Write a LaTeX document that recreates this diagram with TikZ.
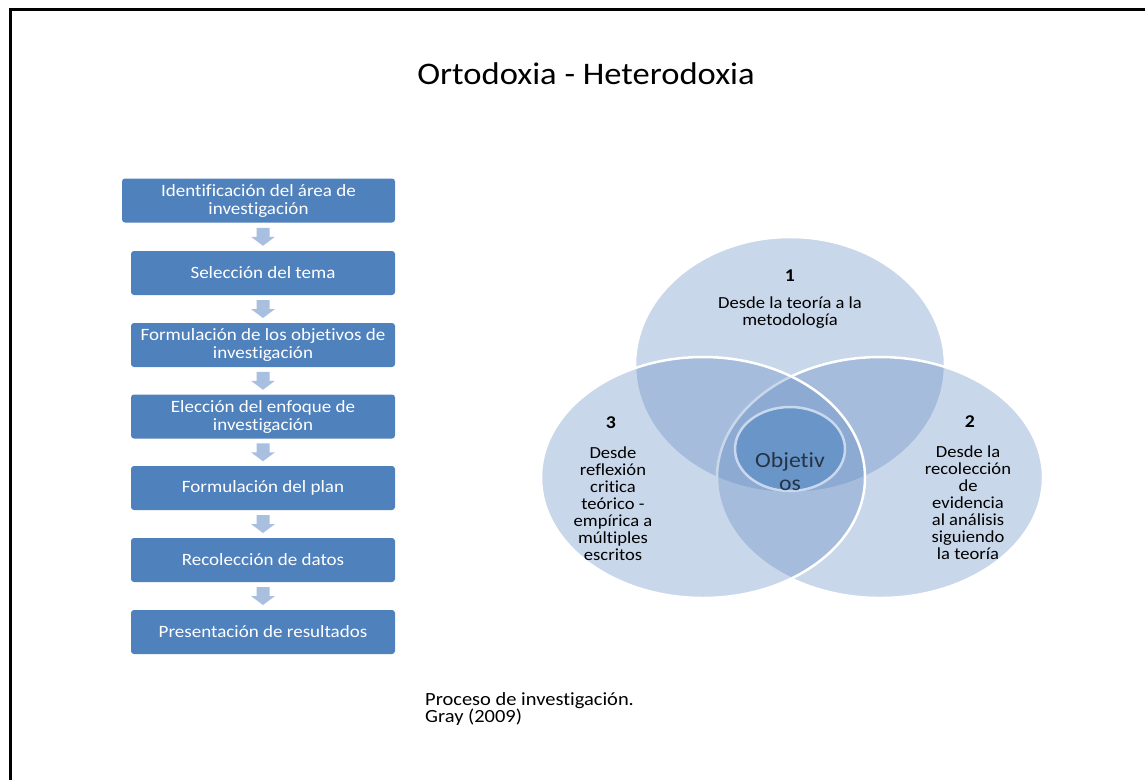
\documentclass[tikz,border=0pt]{standalone}
\usepackage{fontspec}
\setmainfont{Carlito}[FakeStretch=1.1, Ligatures={NoCommon}]
\usetikzlibrary{calc}
\definecolor{boxblue}{HTML}{4F81BD}
\definecolor{arrowblue}{HTML}{A9BFDF}
\definecolor{venn}{RGB}{93,135,192}
\definecolor{core}{HTML}{6A95C8}
\definecolor{coreline}{HTML}{C9D8EC}
\definecolor{coretext}{HTML}{243447}
\begin{document}
\begin{tikzpicture}[x=1pt,y=-1pt,
  stepbox/.style={fill=boxblue, rounded corners=3pt, text=white, align=center,
    minimum height=44pt, minimum width=264pt, inner sep=0pt,
    font=\fontsize{17.3}{18}\selectfont},
  blockarrow/.style={fill=arrowblue},
  vennfill/.style={fill=venn, fill opacity=0.33},
  vennline/.style={draw=white, line width=2.5pt},
  venntext/.style={align=center, inner sep=0pt, anchor=north,
    font=\fontsize{16.9}{17}\selectfont},
  vennnum/.style={inner sep=0pt, anchor=base,
    font=\fontsize{18}{18}\selectfont\bfseries},
  frame/.style={draw=black, line width=2.6pt}]
\useasboundingbox (0,0) rectangle (1145,780);
\fill[white] (0,0) rectangle (1145,780);
% frame
\draw[frame] (10.5,780) -- (10.5,9.2) -- (1145,9.2);
% title
\node[anchor=base, inner sep=0pt, font=\fontsize{31.4}{34}\selectfont] (title) at (586,84) {Ortodoxia - Heterodoxia};
% process boxes
\node[stepbox, minimum width=273pt] (b1) at (258.5,200.5) {Identificación del área de\\investigación};
\node[stepbox] (b2) at (263,273) {Selección del tema};
\node[stepbox] (b3) at (263,345) {Formulación de los objetivos de\\investigación};
\node[stepbox] (b4) at (263,416.5) {Elección del enfoque de\\investigación};
\node[stepbox] (b5) at (263,488) {Formulación del plan};
\node[stepbox] (b6) at (263,560) {Recolección de datos};
\node[stepbox] (b7) at (263,632) {Presentación de resultados};
\foreach \a/\b in {b1/b2,b2/b3,b3/b4,b4/b5,b5/b6,b6/b7}{
  \coordinate (m\a) at ($(\b.north)!0.5!(\a.south -| \b.north)$);
  \fill[blockarrow] (m\a) ++(-6.5,-9) -- ++(13,0) -- ++(0,9) -- ++(5.5,0)
    -- ++(-12,9) -- ++(-12,-9) -- ++(5.5,0) -- cycle;
}
% venn
\path[vennfill] (790,365) ellipse [x radius=155pt, y radius=128pt];
\path[vennline] (790,365) ellipse [x radius=155pt, y radius=128pt];
\path[vennfill] (880,477.5) ellipse [x radius=163pt, y radius=120.5pt];
\path[vennline] (880,477.5) ellipse [x radius=163pt, y radius=120.5pt];
\path[vennfill] (703,477.5) ellipse [x radius=162pt, y radius=120.5pt];
\path[vennline] (703,477.5) ellipse [x radius=162pt, y radius=120.5pt];
\path[fill=core, draw=coreline, line width=2.5pt] (790,449) ellipse [x radius=55pt, y radius=42pt];
\node[align=center, inner sep=0pt, anchor=north, text=coretext,
  font=\fontsize{21.6}{23.5}\selectfont] (obj) at (790,452) {Objetiv\\os};
\node[vennnum] (n1) at (790,281) {1};
\node[venntext] (t1) at (790,297) {Desde la teoría a la\\metodología};
\node[vennnum] (n3) at (611,428) {3};
\node[venntext] (t3) at (613,447) {Desde\\reflexión\\critica\\teórico -\\empírica a\\múltiples\\escritos};
\node[vennnum] (n2) at (970,427) {2};
\node[venntext] (t2) at (968,446) {Desde la\\recolección\\de\\evidencia\\al análisis\\siguiendo\\la teoría};
% caption
\node[align=left, anchor=north west, inner sep=0pt,
  font=\fontsize{18.6}{16.5}\selectfont] (cap) at (425,692) {Proceso de investigación.\\Gray (2009)};
\end{tikzpicture}
\end{document}
